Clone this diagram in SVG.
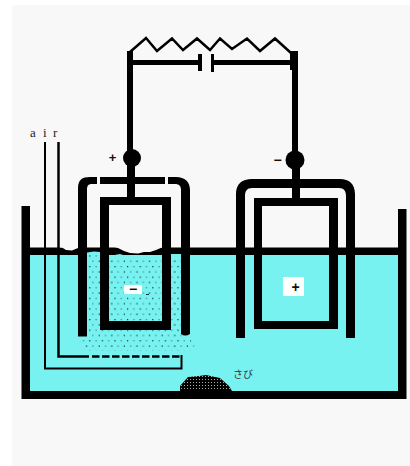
<svg xmlns="http://www.w3.org/2000/svg" width="410" height="466" viewBox="0 0 410 466">
<style>
.k{fill:#000}
.w{fill:none;stroke:#000;stroke-linejoin:miter}
.s{font-family:"Liberation Sans",Arial,sans-serif;font-weight:700;fill:#111;text-anchor:middle}
</style>
<defs>
<pattern id="dots" width="12.600" height="10.600" patternUnits="userSpaceOnUse">
<rect x="1" y="1" width="1.200" height="1.200" fill="#0a2a30"/>
<rect x="7.300" y="1" width="1.200" height="1.200" fill="#2f8288"/>
<rect x="4.100" y="6.300" width="1.200" height="1.200" fill="#2f8288"/>
<rect x="10.400" y="6.300" width="1.200" height="1.200" fill="#0a2a30"/>
</pattern>
<pattern id="rust" width="3" height="3" patternUnits="userSpaceOnUse">
<rect width="3" height="3" fill="#000"/>
<rect x="1" y="1" width="1" height="1" fill="#aaa"/>
</pattern>
</defs>
<rect width="410" height="466" fill="#fff"/>
<rect x="12" y="5" width="398" height="461" fill="#f8f8f8"/>
<g id="tank">
<rect x="30" y="252" width="368" height="139" fill="#78f2f0"/>
<path class="k" d="M21.500 206H30V247.500H398V209H406.500V399H21.500ZM30 255V391H398V255Z" fill-rule="evenodd"/>
<text x="243" y="378" font-family="'Noto Sans CJK JP',sans-serif" font-size="10" fill="#333" text-anchor="middle">さび</text>
<path d="M180 391V386L188 377L199 376L206 375L220 378L229 386L232 391Z" fill="url(#rust)"/>
</g>
<g id="left-electrode">
<path d="M60 244H181V247L170 246.500L163 247L156 250L150 252L144 252L138 253.500L130 253L124 251L118 248L108 245L100 246.500L90 247L84 246.500L78 248L72 250.500L66 250L62 247.500H60Z" fill="#f8f8f8"/>
<path d="M87 252.500L94 251.500L100 252L100 256H87ZM109 256L120 254L126 256L138 258L150 255L162 257V260H109ZM171 254H181V258H171Z" fill="#78f2f0"/>
<path d="M88 254H100V259H181V335L197 344L190 351H84L80 337H88Z" fill="url(#dots)"/>
<path d="M87 336.500H78V188C78 180 82 177 90 177H97V184H92C88 184 87 186 87 190ZM100 177H165V184H100ZM168 177H176C185 177 190 182 190 190V334Q185 337 181 334V190C181 186 179 184 175 184H168Z" class="k"/>
<path class="k" fill-rule="evenodd" d="M100 197H171V330H100ZM109 205V321H162V205Z"/>
<rect class="k" x="127" y="165" width="8" height="32"/>
<circle class="k" cx="132" cy="158" r="9"/>
<rect x="124" y="285" width="18" height="9" fill="#fff"/>
<text class="s" x="133" y="294" font-size="14">−</text>
<rect x="146" y="294" width="3" height="1" fill="#123"/>
<text class="s" x="112.500" y="162" font-size="13">+</text>
</g>
<g id="right-electrode">
<path class="k" d="M245 338H236V194C236 184 242 179 252 179H340C349 179 355 184 355 194V338H346V196C346 191 344 188 339 188H252C247 188 245 191 245 196Z"/>
<path class="k" fill-rule="evenodd" d="M254 198H338V329H254ZM262 206V321H329V206Z"/>
<rect class="k" x="292" y="168" width="8" height="30"/>
<circle class="k" cx="295" cy="160" r="9.500"/>
<rect x="283" y="277" width="21" height="19" fill="#fff"/>
<text class="s" x="295.500" y="291.500" font-size="14">+</text>
<text class="s" x="277.500" y="164.500" font-size="14">−</text>
</g>
<g id="air">
<text x="30 43 53" y="137" font-family="'Liberation Serif',serif" font-size="13" fill="#222">air</text>
<path class="w" stroke-width="2" d="M45 142V368.500H181.500V355"/>
<path class="w" stroke-width="2.500" d="M58.500 142V356.500H89"/>
<path class="w" stroke-width="2.500" stroke-dasharray="7.500 2.500" d="M92 356.500H180"/>
</g>
<g id="connectors">
<path class="w" stroke-width="6" d="M130 51V160"/>
<path class="w" stroke-width="6" d="M295 65V162"/>
<rect class="k" x="290" y="51" width="8" height="19"/>
<path class="w" stroke-width="2.500" d="M130 52L146 38L157 51L172 38.500L183 50L197 38.500L210 50L220 38.500L232 49L247 38.500L260 51L275 38.500L291 53"/>
<path class="w" stroke-width="5" d="M130 62.500H199M214 62.500H292"/>
<rect class="k" x="198" y="54" width="4" height="17"/>
<rect class="k" x="211" y="54" width="3" height="18"/>
</g>
</svg>
